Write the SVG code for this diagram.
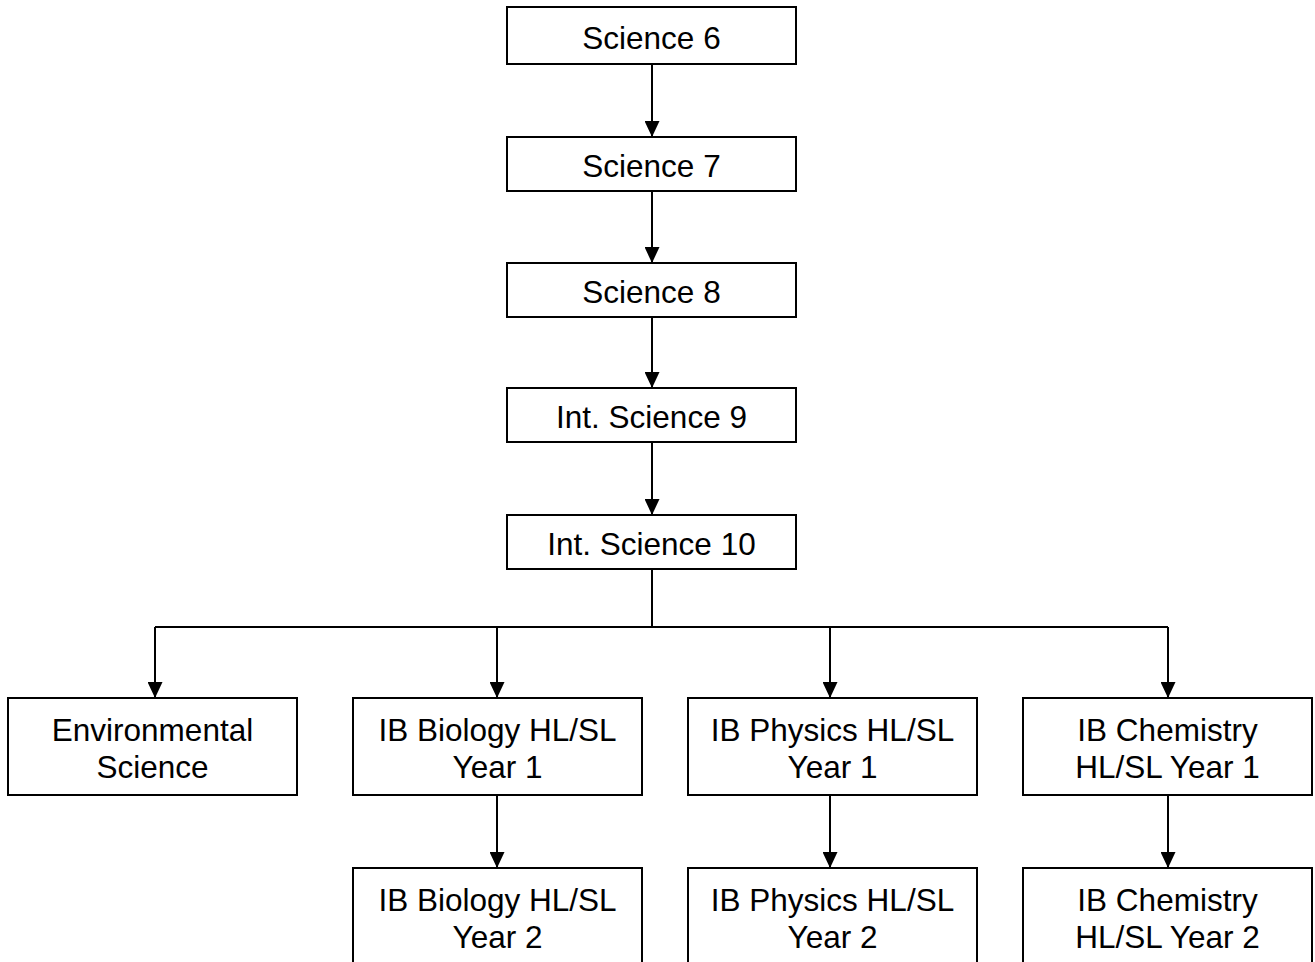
<svg xmlns="http://www.w3.org/2000/svg" width="1315" height="962" viewBox="0 0 1315 962">
<style>
.box{fill:#fff;stroke:#000;stroke-width:2}
.t{font-family:"Liberation Sans",Arial,sans-serif;font-size:31.5px;fill:#000;text-anchor:middle}
.c{fill:none;stroke:#000;stroke-width:2}
</style>
<defs>
<marker id="ah" markerUnits="userSpaceOnUse" markerWidth="16" markerHeight="15" refX="16" refY="7.5" orient="auto">
<path d="M0,0 L16,7.5 L0,15 Z" fill="#000"/>
</marker>
</defs>
<rect width="1315" height="962" fill="#fff"/>
<g id="connectors">
<path class="c" d="M652,64 V137" marker-end="url(#ah)"/>
<path class="c" d="M652,191 V263" marker-end="url(#ah)"/>
<path class="c" d="M652,317 V388" marker-end="url(#ah)"/>
<path class="c" d="M652,442 V515" marker-end="url(#ah)"/>
<path class="c" d="M652,569 V627"/>
<path class="c" d="M155,627 H1168"/>
<path class="c" d="M155,627 V698" marker-end="url(#ah)"/>
<path class="c" d="M497,627 V698" marker-end="url(#ah)"/>
<path class="c" d="M830,627 V698" marker-end="url(#ah)"/>
<path class="c" d="M1168,627 V698" marker-end="url(#ah)"/>
<path class="c" d="M497,795 V868" marker-end="url(#ah)"/>
<path class="c" d="M830,795 V868" marker-end="url(#ah)"/>
<path class="c" d="M1168,795 V868" marker-end="url(#ah)"/>
</g>
<g id="sci6"><rect class="box" x="507" y="7" width="289" height="57"/><text class="t" x="651.5" y="49">Science 6</text></g>
<g id="sci7"><rect class="box" x="507" y="137" width="289" height="54"/><text class="t" x="651.5" y="177">Science 7</text></g>
<g id="sci8"><rect class="box" x="507" y="263" width="289" height="54"/><text class="t" x="651.5" y="303">Science 8</text></g>
<g id="int9"><rect class="box" x="507" y="388" width="289" height="54"/><text class="t" x="651.5" y="428">Int. Science 9</text></g>
<g id="int10"><rect class="box" x="507" y="515" width="289" height="54"/><text class="t" x="651.5" y="555">Int. Science 10</text></g>
<g id="env"><rect class="box" x="8" y="698" width="289" height="97"/><text class="t" x="152.5" y="741">Environmental</text><text class="t" x="152.5" y="778">Science</text></g>
<g id="bio1"><rect class="box" x="353" y="698" width="289" height="97"/><text class="t" x="497.5" y="741">IB Biology HL/SL</text><text class="t" x="497.5" y="778">Year 1</text></g>
<g id="phy1"><rect class="box" x="688" y="698" width="289" height="97"/><text class="t" x="832.5" y="741">IB Physics HL/SL</text><text class="t" x="832.5" y="778">Year 1</text></g>
<g id="chem1"><rect class="box" x="1023" y="698" width="289" height="97"/><text class="t" x="1167.5" y="741">IB Chemistry</text><text class="t" x="1167.5" y="778">HL/SL Year 1</text></g>
<g id="bio2"><rect class="box" x="353" y="868" width="289" height="100"/><text class="t" x="497.5" y="911">IB Biology HL/SL</text><text class="t" x="497.5" y="948">Year 2</text></g>
<g id="phy2"><rect class="box" x="688" y="868" width="289" height="100"/><text class="t" x="832.5" y="911">IB Physics HL/SL</text><text class="t" x="832.5" y="948">Year 2</text></g>
<g id="chem2"><rect class="box" x="1023" y="868" width="289" height="100"/><text class="t" x="1167.5" y="911">IB Chemistry</text><text class="t" x="1167.5" y="948">HL/SL Year 2</text></g>
</svg>
